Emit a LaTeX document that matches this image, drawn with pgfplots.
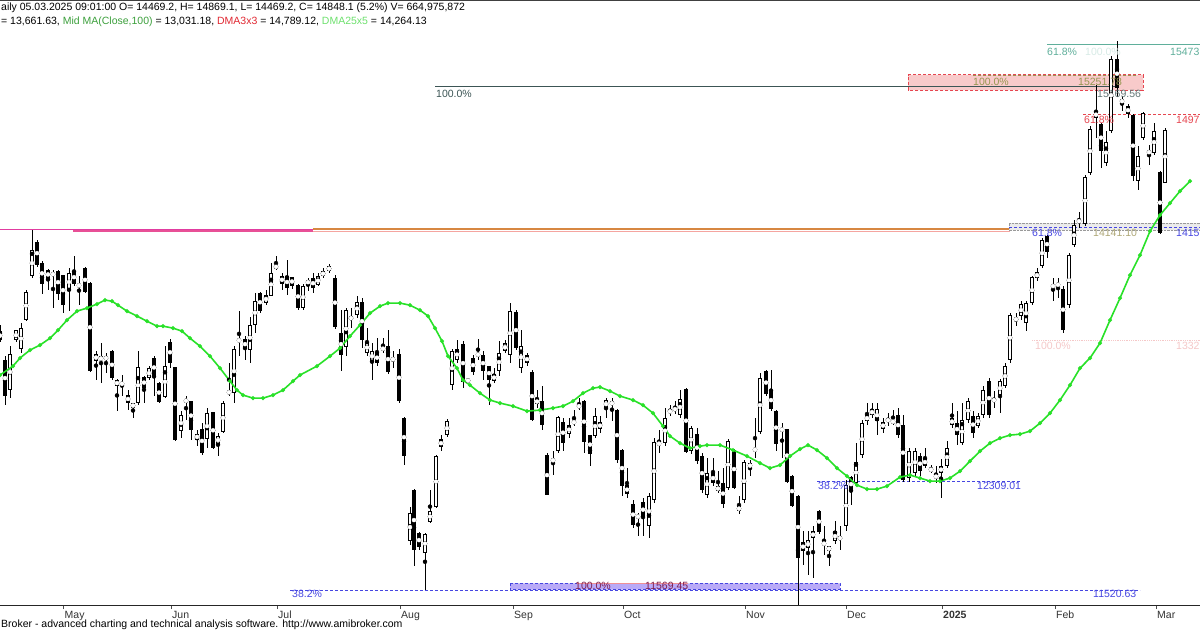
\documentclass[border=0pt]{standalone}
\usepackage{pgfplots}
\pgfplotsset{compat=1.18}
\usepackage{pgfplotstable}
\usepackage{fontspec}
\setmainfont{Liberation Sans}

\definecolor{maGreen}{RGB}{40,225,40}
\definecolor{midGreen}{RGB}{60,160,60}
\definecolor{dmaRed}{RGB}{225,40,50}
\definecolor{dmaGreen}{RGB}{110,225,110}
\definecolor{fibTeal}{RGB}{95,175,155}
\definecolor{fibDark}{RGB}{60,85,85}
\definecolor{fibOlive}{RGB}{150,150,80}
\definecolor{fibRed}{RGB}{230,70,80}
\definecolor{fibBlue}{RGB}{70,70,225}
\definecolor{fibFaint}{RGB}{245,200,200}
\definecolor{pinkFill}{RGB}{248,202,202}
\definecolor{purpFill}{RGB}{185,170,247}
\definecolor{magLine}{RGB}{225,60,160}
\definecolor{pinkBand}{RGB}{232,80,150}
\definecolor{orgLine}{RGB}{215,135,65}
\definecolor{salLine}{RGB}{245,165,160}
\definecolor{khaki}{RGB}{175,168,120}
\definecolor{maroon}{RGB}{128,32,80}

% daily bars: x = bar position, open high low close
\pgfplotstableread{
x o h l c
0 13393 13441 13320 13332
5 13188 13212 12862 12922
10 12970 13284 12910 13229
16 13332 13405 13320 13400
21 13265 13453 13236 13417
26 13477 13690 13470 13682
32 13791 14129 13780 13984
37 14044 14056 13862 13875
42 13892 13900 13665 13735
48 13839 13845 13694 13772
53 13815 13839 13562 13800
58 13834 13839 13622 13665
63 13798 13805 13525 13586
69 13687 13851 13538 13815
74 13834 13936 13719 13738
79 13728 13791 13586 13724
85 13851 13863 13670 13682
90 13743 13750 13100 13103
96 13176 13248 13043 13231
101 13212 13308 13019 13183
106 13183 13236 13091 13217
112 13248 13260 13043 13055
117 13043 13045 12814 12995
122 13016 13079 12922 13012
128 12934 12970 12826 12874
133 12874 12876 12765 12838
138 12874 13248 12862 13132
144 13062 13067 12874 12983
149 13055 13139 13043 13127
154 13202 13212 12922 13062
159 13019 13024 12876 12881
165 12917 13284 12910 13139
170 13320 13337 13127 13164
175 13135 13139 12600 12604
181 12669 12814 12621 12790
186 12879 12922 12753 12903
191 12886 12888 12609 12681
197 12609 12681 12560 12650
202 12688 12729 12500 12512
207 12613 12838 12548 12802
213 12806 12810 12545 12548
218 12580 12657 12488 12633
223 12662 12886 12655 12872
229 12958 13164 12922 12946
234 12946 13284 12874 13265
239 13330 13538 13212 13326
245 13337 13357 13188 13265
250 13255 13501 13164 13441
255 13441 13670 13381 13615
260 13670 13682 13525 13538
266 13598 13694 13586 13658
271 13651 13887 13646 13815
276 13875 13936 13839 13846
282 13796 13815 13694 13738
287 13796 13912 13658 13706
292 13786 13790 13700 13723
298 13731 13740 13550 13562
303 13562 13735 13547 13721
308 13735 13778 13685 13764
313 13779 13815 13670 13706
318 13728 13815 13720 13793
323 13793 13851 13779 13829
329 13829 13880 13815 13866
335 13779 13800 13410 13424
341 13381 13547 13105 13221
346 13279 13562 13214 13547
351 13475 13562 13417 13504
357 13511 13648 13489 13605
362 13605 13634 13272 13330
367 13236 13417 13214 13316
372 13178 13308 13040 13250
377 13243 13344 13142 13163
383 13257 13344 13236 13279
388 13287 13402 13084 13098
393 13192 13250 13127 13190
399 13228 13265 12874 12888
404 12765 12770 12425 12490
410 11875 12121 11846 12077
414 12244 12250 11694 11810
419 11933 11940 11810 11831
425 11788 11930 11520 11925
430 12012 12244 12005 12092
436 12121 12495 12114 12490
441 12613 12642 12526 12555
447 12642 12758 12628 12743
452 13004 13265 12968 13250
457 13185 13330 13163 13265
463 13301 13323 12982 13026
468 13048 13055 13020 13026
473 13200 13221 13077 13098
478 13214 13337 13185 13236
483 13221 13250 13040 13106
489 13142 13145 12859 13040
494 13033 13127 13019 13084
499 13106 13323 13069 13236
505 13250 13330 13236 13308
510 13221 13598 13163 13540
516 13533 13547 13257 13272
521 13127 13402 13091 13287
527 13221 13236 13142 13163
532 13098 13113 12743 12751
537 12867 12968 12838 12903
542 12888 12997 12678 12715
547 12497 12512 12208 12208
553 12462 12526 12353 12458
558 12526 12780 12512 12773
563 12736 12765 12526 12584
569 12649 12765 12620 12715
574 12729 12823 12707 12743
579 12845 12910 12823 12859
584 12888 12896 12512 12591
590 12642 12645 12418 12505
595 12635 12838 12620 12780
600 12736 12780 12657 12686
606 12838 12910 12765 12896
612 12859 12910 12743 12888
617 12823 12830 12440 12461
622 12534 12540 12201 12273
627 12280 12403 12186 12215
633 12143 12172 11969 11991
638 12041 12077 11911 12063
643 12157 12186 11911 12048
649 11983 12222 11896 12201
654 12172 12620 12150 12591
659 12591 12678 12512 12570
665 12584 12838 12562 12765
670 12816 12859 12780 12812
675 12845 12888 12794 12816
680 12787 12968 12765 12903
686 12975 12980 12510 12519
691 12526 12707 12505 12693
697 12649 12693 12432 12454
702 12490 12512 12222 12244
707 12208 12476 12186 12367
713 12367 12476 12273 12295
718 12273 12382 12222 12237
723 12295 12403 12114 12143
728 12258 12613 12244 12599
734 12534 12540 12250 12258
739 12128 12201 12070 12092
744 12172 12461 12150 12447
750 12403 12461 12345 12440
755 12526 12765 12476 12548
760 12664 13091 12649 13055
766 13106 13113 12925 12939
771 12961 13113 12816 12830
776 12816 12823 12526 12577
782 12671 12729 12476 12693
787 12686 12690 12295 12302
792 12345 12350 12120 12128
798 12201 12208 11411 11752
803 11867 11947 11701 11802
808 11824 11947 11629 11882
813 11896 11983 11607 11947
819 12092 12099 11925 11940
824 11867 11983 11773 11846
829 11838 11840 11694 11802
835 11875 12019 11853 11947
840 11882 11983 11810 11911
846 11983 12316 11947 12280
851 12338 12345 12135 12237
856 12295 12584 12273 12447
862 12497 12751 12476 12729
867 12743 12874 12715 12787
872 12830 12874 12765 12787
877 12743 12874 12642 12830
883 12736 12765 12657 12686
888 12743 12801 12707 12758
893 12743 12823 12715 12736
898 12787 12838 12620 12642
903 12714 12787 12302 12316
909 12331 12548 12302 12526
915 12367 12548 12345 12526
920 12490 12512 12345 12381
925 12476 12548 12403 12418
931 12403 12425 12367 12381
936 12331 12418 12295 12353
941 12418 12468 12186 12367
947 12418 12599 12403 12548
952 12714 12874 12693 12765
957 12729 12816 12570 12642
962 12584 12874 12570 12751
968 12751 12910 12729 12888
973 12780 12816 12620 12657
978 12707 12801 12693 12780
983 12787 12997 12765 12968
989 13033 13055 12765 12787
994 12903 12961 12838 12888
1000 12932 13048 12801 13033
1005 12997 13163 12982 13142
1010 13185 13525 13163 13511
1016 13482 13525 13431 13480
1021 13504 13612 13475 13591
1026 13453 13612 13395 13598
1032 13598 13793 13583 13786
1037 13822 13851 13757 13779
1042 13866 14068 13851 14054
1047 14083 14090 13924 13967
1053 13723 13779 13612 13720
1058 13728 13779 13634 13735
1063 13699 13721 13381 13402
1069 13583 13960 13562 13945
1074 14016 14199 14002 14163
1079 14184 14257 14141 14199
1085 14170 14525 14155 14510
1090 14539 14879 14525 14858
1096 14988 15176 14792 14937
1101 14894 14902 14575 14698
1106 14611 14843 14590 14763
1111 14843 15386 14829 15364
1117 15364 15495 15090 15154
1122 15075 15097 14988 15046
1128 15024 15039 14937 14966
1133 14959 14966 14481 14517
1138 14481 14734 14416 14662
1143 14792 14980 14778 14973
1149 14684 14742 14597 14698
1154 14684 14901 14669 14843
1160 14546 14553 14100 14105
1165 14469.2 14869.1 14469.2 14848.1
}\candles

% DMA25x5, displaced moving average
\pgfplotstableread{
x ma
0 13077
13 13142
20 13200
30 13258
40 13294
50 13344
58 13402
67 13475
77 13540
87 13562
97 13591
105 13620
112 13612
118 13583
127 13540
137 13504
147 13467
157 13431
163 13431
173 13417
182 13395
190 13344
200 13286
210 13214
220 13127
230 13033
237 12968
243 12932
253 12910
263 12910
273 12932
283 12968
293 13033
300 13077
317 13142
330 13214
340 13272
350 13359
360 13439
370 13525
380 13576
388 13598
400 13598
410 13583
420 13547
428 13504
435 13417
442 13323
448 13214
457 13127
463 13040
470 13004
480 12946
490 12896
500 12874
513 12852
527 12816
540 12823
553 12838
563 12852
573 12888
583 12946
593 12982
600 12990
610 12961
620 12925
633 12896
643 12859
653 12801
663 12707
670 12635
680 12584
690 12548
700 12562
707 12570
720 12570
733 12534
747 12490
760 12440
770 12403
780 12425
790 12490
800 12541
808 12570
817 12534
827 12476
837 12403
847 12345
857 12280
867 12251
877 12251
887 12273
900 12338
910 12353
920 12331
930 12309
940 12309
950 12331
960 12381
970 12454
980 12526
990 12584
1000 12620
1010 12642
1020 12649
1030 12671
1040 12729
1050 12801
1060 12896
1070 13004
1080 13127
1090 13200
1100 13308
1110 13475
1120 13634
1130 13801
1140 13945
1150 14119
1160 14235
1170 14322
1180 14409
1190 14481
}\dma

\begin{document}
\begin{tikzpicture}[x=1pt,y=1pt,font=\fontsize{10.5}{12.6}\selectfont]
\useasboundingbox (0,0) rectangle (1200,630);
\clip (0,0) rectangle (1200,630);
\fill[white] (0,0) rectangle (1200,630);
\begin{axis}[
    at={(0,18)}, anchor=south west,
    scale only axis, width=1200pt, height=577pt,
    xmin=0, xmax=1200, ymin=11411, ymax=15589,
    clip=false,
    axis x line*=bottom, hide y axis,
    x axis line style={-, black!85, line width=0.8pt},
    xtick={63.5,171,277,400,513,623,745,846,942,1055,1156},
    xticklabels={May,Jun,Jul,Aug,Sep,Oct,Nov,Dec,\textbf{2025},Feb,Mar},
    tick align=outside, major tick length=4pt,
    tick style={black!70, line width=0.6pt},
    xticklabel style={anchor=north west, inner sep=0pt, xshift=1pt, yshift=-2pt,
        font=\fontsize{10.5}{12.6}\selectfont, text=black!80},
]
% fib drawings behind the bars
\addplot[magLine, line width=1pt] coordinates {(0,14134) (313,14134)};
\addplot[pinkBand, line width=2.5pt] coordinates {(73,14121) (313,14121)};
\addplot[orgLine, line width=1.5pt] coordinates {(313,14134) (1010,14134)};
\addplot[salLine, line width=1.4pt] coordinates {(313,14116) (1010,14116)};
\addplot[fill=black!8, draw=black!40, densely dotted] coordinates {(1009,14177) (1200,14177) (1200,14126) (1009,14126) (1009,14177)};
\addplot[fibBlue, densely dashed, line width=0.8pt] coordinates {(1009,14148) (1200,14148)};
\addplot[fill=pinkFill, draw=fibRed, densely dashed, line width=0.8pt] coordinates {(908,15251) (1143,15251) (1143,15140) (908,15140) (908,15251)};
\addplot[fibOlive, densely dashed, line width=0.8pt] coordinates {(973,15244) (1137,15244)};
\addplot[fibDark, line width=0.9pt] coordinates {(435,15169.56) (1118,15169.56)};
\addplot[fibTeal, line width=1pt] coordinates {(1047,15473) (1200,15473)};
\addplot[fibRed, densely dashed, line width=0.8pt] coordinates {(1083,14968) (1200,14968)};
\addplot[fibFaint, densely dotted, line width=0.8pt] coordinates {(1032,13330) (1200,13330)};
\addplot[fibBlue, densely dashed, line width=0.8pt] coordinates {(817,12309.01) (1020,12309.01)};
\addplot[fill=purpFill, draw=fibBlue, densely dashed, line width=0.8pt] coordinates {(510,11569.45) (840,11569.45) (840,11524) (510,11524) (510,11569.45)};
\addplot[fibRed!60, line width=0.6pt] coordinates {(577,11569.45) (688,11569.45)};
\addplot[fibBlue, densely dashed, line width=0.8pt] coordinates {(290,11520.63) (1140,11520.63)};

% wicks
\addplot[black, only marks, mark=none,
    error bars/.cd, y dir=both, y explicit, error mark=none,
    error bar style={line width=1pt, black}]
    table[x=x, y expr={(\thisrow{h}+\thisrow{l})/2},
          y error expr={(\thisrow{h}-\thisrow{l})/2}] {\candles};
% falling bodies
\addplot[black, only marks, mark=none,
    error bars/.cd, y dir=both, y explicit, error mark=none,
    error bar style={line width=4.4pt, black}]
    table[x=x, y expr={(\thisrow{o}+\thisrow{c})/2},
          y error expr={\thisrow{o}>\thisrow{c} ? max((\thisrow{o}-\thisrow{c})/2,3.6) : 0}] {\candles};
% rising bodies: outline then white inside
\addplot[black, only marks, mark=none,
    error bars/.cd, y dir=both, y explicit, error mark=none,
    error bar style={line width=4.4pt, black}]
    table[x=x, y expr={(\thisrow{o}+\thisrow{c})/2},
          y error expr={\thisrow{o}>\thisrow{c} ? 0 : max((\thisrow{c}-\thisrow{o})/2,3.6)}] {\candles};
\addplot[white, only marks, mark=none,
    error bars/.cd, y dir=both, y explicit, error mark=none,
    error bar style={line width=2.4pt, white}]
    table[x=x, y expr={(\thisrow{o}+\thisrow{c})/2},
          y error expr={\thisrow{o}>\thisrow{c} ? 0 : max((\thisrow{c}-\thisrow{o})/2-7.2,0)}] {\candles};

% DMA25x5
\addplot[maGreen, line width=1.6pt, mark=*, mark size=1.1pt] table[x=x, y=ma] {\dma};

% level labels
\begin{scope}[every node/.style={anchor=west, inner sep=0pt}]
\node[text=fibTeal] at (axis cs:1047,15415) {61.8\%};
\node[text=fibTeal!25] at (axis cs:1085,15415) {100.0\%};
\node[text=fibTeal] at (axis cs:1170,15415) {15473};
\node[text=fibOlive] at (axis cs:973,15198) {100.0\%};
\node[text=fibOlive] at (axis cs:1078,15198) {15251.78};
\node[text=fibDark] at (axis cs:436,15111) {100.0\%};
\node[text=fibDark!80] at (axis cs:1097,15111) {15169.56};
\node[text=fibRed] at (axis cs:1084,14923) {61.8\%};
\node[text=fibRed] at (axis cs:1176,14923) {1497};
\node[text=fibBlue] at (axis cs:1032,14105) {61.8\%};
\node[text=khaki] at (axis cs:1093,14105) {14141.10};
\node[text=fibBlue] at (axis cs:1176,14105) {1415};
\node[text=fibFaint] at (axis cs:1035,13287) {100.0\%};
\node[text=fibFaint] at (axis cs:1176,13287) {1332};
\node[text=fibBlue] at (axis cs:818,12273) {38.2\%};
\node[text=fibBlue] at (axis cs:977,12273) {12309.01};
\node[text=maroon] at (axis cs:575,11549) {100.0\%};
\node[text=maroon] at (axis cs:645,11549) {11569.45};
\node[text=fibBlue] at (axis cs:292,11491) {38.2\%};
\node[text=fibBlue] at (axis cs:1093,11491) {11520.63};
\end{scope}
\end{axis}

\fill[black!75] (0,628.6) rectangle (1200,630);
\node[anchor=west, inner sep=0pt] at (1,622) {aily 05.03.2025 09:01:00 O= 14469.2, H= 14869.1, L= 14469.2, C= 14848.1 (5.2\%) V= 664,975,872};
\node[anchor=west, inner sep=0pt] at (1,608) {= 13,661.63, \textcolor{midGreen}{Mid MA(Close,100)} = 13,031.18, \textcolor{dmaRed}{DMA3x3} = 14,789.12, \textcolor{dmaGreen}{DMA25x5} = 14,264.13};
\node[anchor=west, inner sep=0pt] at (1,5) {Broker - advanced charting and technical analysis software. http://www.amibroker.com};
\end{tikzpicture}
\end{document}
